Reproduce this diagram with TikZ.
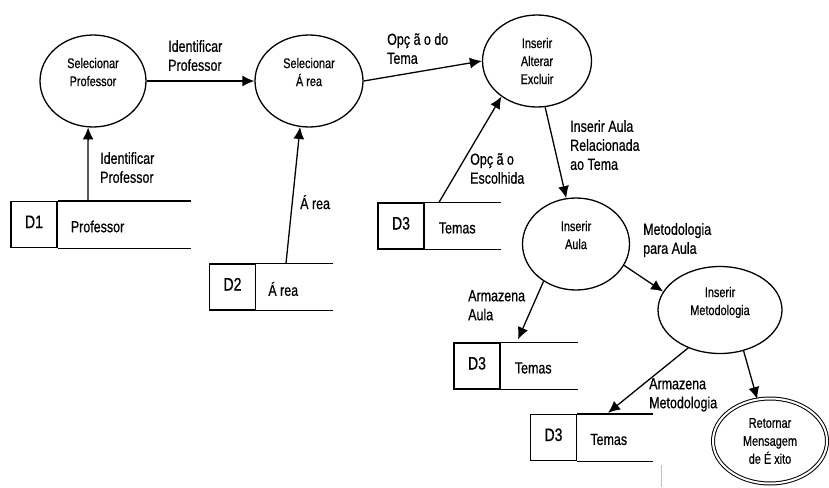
\documentclass[tikz,border=0pt]{standalone}
\usepackage{fontspec}
\setmainfont{Liberation Sans}[FakeStretch=0.78,FakeBold=0.6]
\usetikzlibrary{shapes.geometric,arrows.meta}
\begin{document}
\begin{tikzpicture}[x=1pt,y=-1pt,
  proc/.style={ellipse,draw,line width=1.3pt,inner sep=0pt,align=center,font=\fontsize{14}{18}\selectfont},
  lbl/.style={anchor=north west,inner sep=0pt,align=left,font=\fontsize{16}{19}\selectfont},
  idbox/.style={draw,line width=1.3pt,minimum width=46pt,minimum height=46pt,inner sep=0pt,text height=13pt,text depth=6pt,font=\fontsize{18}{20}\selectfont},
  sname/.style={anchor=west,inner sep=0pt,font=\fontsize{16}{19}\selectfont},
  flow/.style={line width=1.3pt,-{Latex[length=12pt,width=11pt]}},
  sline/.style={line width=1.3pt}]
\useasboundingbox (0,0) rectangle (829,487);

% processes
\node[proc,minimum width=106pt,minimum height=92pt] (sp) at (93,81) {Selecionar\\Professor\\\mbox{}};
\node[proc,minimum width=108pt,minimum height=92pt] (sa) at (309,81) {Selecionar\\Á rea\\\mbox{}};
\node[proc,minimum width=109pt,minimum height=92pt] (iae) at (537,61) {Inserir\\Alterar\\Excluir};
\node[proc,minimum width=107pt,minimum height=92pt] (ia) at (576,244) {Inserir\\Aula\\\mbox{}};
\node[proc,minimum width=124pt,minimum height=87pt] (im) at (720,310) {Inserir\\Metodologia\\\mbox{}};
\node[proc,double,double distance=2pt,line width=1pt,minimum width=114pt,minimum height=85pt] (rm) at (770,441) {Retornar\\Mensagem\\de É xito};

% data stores
\node[idbox] (d1) at (34,224.5) {D1};
\draw[sline] (d1.north east) -- ++(133,0) (d1.south east) -- ++(133,0);
\node[sname] (d1n) at ([xshift=13pt,yshift=-2pt]d1.east) {Professor};

\node[idbox] (d2) at (232.5,287) {D2};
\draw[sline] (d2.north east) -- ++(77,0) (d2.south east) -- ++(77,0);
\node[sname] (d2n) at ([xshift=12pt,yshift=-2pt]d2.east) {Á rea};

\node[idbox] (d3a) at (401,226) {D3};
\draw[sline] (d3a.north east) -- ++(76,0) (d3a.south east) -- ++(76,0);
\node[sname] (d3an) at ([xshift=14pt,yshift=-2pt]d3a.east) {Temas};

\node[idbox] (d3b) at (477,366) {D3};
\draw[sline] (d3b.north east) -- ++(77,0) (d3b.south east) -- ++(77,0);
\node[sname] (d3bn) at ([xshift=14pt,yshift=-2pt]d3b.east) {Temas};

\node[idbox] (d3c) at (553.5,437.5) {D3};
\draw[sline] (d3c.north east) -- ++(76,0) (d3c.south east) -- ++(76,0);
\node[sname] (d3cn) at ([xshift=13pt,yshift=-2pt]d3c.east) {Temas};

% flows
\draw[flow] (sp.east) -- (sa.west);
\draw[flow] ([xshift=54pt]d1.north) -- (sp.-96);
\draw[flow] ([xshift=53.5pt]d2.north) -- (sa.-101);
\draw[flow] (sa.east) -- (iae.west);
\draw[flow] ([xshift=38pt]d3a.north) -- (iae.-135);
\draw[flow] (iae.-80) -- (ia.102);
\draw[flow] (ia.-24) -- (im.162);
\draw[flow] (ia.-131) -- ([xshift=41pt,yshift=3pt]d3b.north);
\draw[flow] (im.-130) -- ([xshift=54.5pt,yshift=1pt]d3c.north);
\draw[flow] (im.-60) -- (rm.107);

% labels
\node[lbl] (l1) at (168,40) {Identificar\\Professor};
\node[lbl] (l2) at (100,152) {Identificar\\Professor};
\node[lbl] (l3) at (300,195) {Á rea};
\node[lbl] (l4) at (387,33) {Opç ã o do\\Tema};
\node[lbl] (l5) at (470,153) {Opç ã o\\Escolhida};
\node[lbl] (l6) at (570,120) {Inserir Aula\\Relacionada\\ao Tema};
\node[lbl] (l7) at (643,223) {Metodologia\\para Aula};
\node[lbl] (l8) at (468,290) {Armazena\\Aula};
\node[lbl] (l9) at (649,378) {Armazena\\Metodologia};

% stray mark
\draw[gray!50,line width=0.6pt] (661,465) -- (661,487);
\end{tikzpicture}
\end{document}
